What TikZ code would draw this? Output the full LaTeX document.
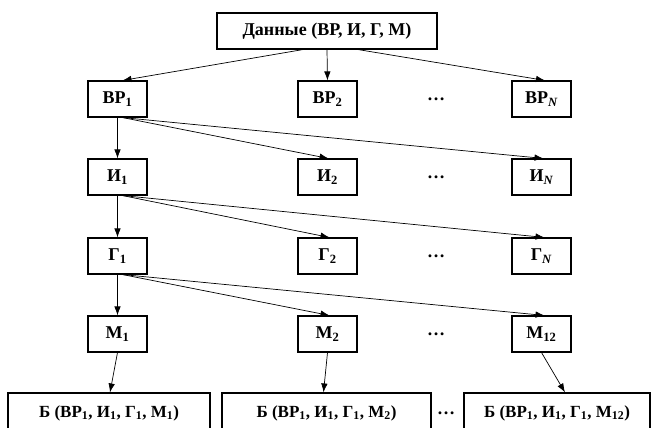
\documentclass[tikz,border=0pt]{standalone}
\usepackage{fontspec}
\setmainfont{Liberation Serif}
\usetikzlibrary{arrows.meta}
\newcommand{\sbs}[1]{\textsubscript{#1}}
\begin{document}
\begin{tikzpicture}[x=1pt,y=-1pt,
  box/.style={draw,line width=1.1pt,minimum width=59pt,minimum height=36pt,inner sep=0pt,font=\fontsize{18}{21}\selectfont\bfseries},
  bbox/.style={box,minimum height=40pt,font=\fontsize{17}{20}\selectfont\bfseries},
  arr/.style={-{Latex[length=9pt,width=6.5pt]},line width=0.7pt},
  dotsnode/.style={font=\fontsize{18}{21}\selectfont\bfseries,inner sep=0pt}]
\useasboundingbox (0,0) rectangle (659,428);
\clip (0,0) rectangle (659,428);
\node[box,minimum width=220pt] (top) at (327,31) {Данные (ВР, И, Г, М)};
% row BP
\node[box] (vr1) at (117.5,99) {ВР\sbs{1}};
\node[box] (vr2) at (327.5,99) {ВР\sbs{2}};
\node[dotsnode] (vrd) at (436,99) {…};
\node[box] (vrn) at (541.5,99) {ВР\sbs{\textit{N}}};
% row I
\node[box] (i1) at (117.5,177) {И\sbs{1}};
\node[box] (i2) at (327.5,177) {И\sbs{2}};
\node[dotsnode] (id) at (436,177) {…};
\node[box] (in) at (541.5,177) {И\sbs{\textit{N}}};
% row G
\node[box] (g1) at (117.5,256) {Г\sbs{1}};
\node[box] (g2) at (327.5,256) {Г\sbs{2}};
\node[dotsnode] (gd) at (436,256) {…};
\node[box] (gn) at (541.5,256) {Г\sbs{\textit{N}}};
% row M
\node[box] (m1) at (117.5,334) {М\sbs{1}};
\node[box] (m2) at (327.5,334) {М\sbs{2}};
\node[dotsnode] (md) at (436,334) {…};
\node[box] (m12) at (541.5,334) {М\sbs{12}};
% bottom
\node[bbox,minimum width=202pt] (b1) at (109,413) {Б (ВР\sbs{1}, И\sbs{1}, Г\sbs{1}, М\sbs{1})};
\node[bbox,minimum width=209pt] (b2) at (326.5,413) {Б (ВР\sbs{1}, И\sbs{1}, Г\sbs{1}, М\sbs{2})};
\node[dotsnode] (bd) at (446,413) {…};
\node[bbox,minimum width=186pt] (b3) at (557,413) {Б (ВР\sbs{1}, И\sbs{1}, Г\sbs{1}, М\sbs{12})};
% arrows
\draw[arr] ([xshift=-24pt]top.south) -- ([xshift=5pt]vr1.north);
\draw[arr] (top.south) -- (vr2.north);
\draw[arr] ([xshift=31pt]top.south) -- ([xshift=3.5pt]vrn.north);
\draw[arr] (vr1.south) -- (i1.north);
\draw[arr] ([xshift=5pt]vr1.south) -- ([xshift=1pt]i2.north);
\draw[arr] ([xshift=5pt]vr1.south) -- ([xshift=2pt]in.north);
\draw[arr] (i1.south) -- (g1.north);
\draw[arr] ([xshift=5pt]i1.south) -- ([xshift=2pt]g2.north);
\draw[arr] ([xshift=5pt]i1.south) -- ([xshift=3pt]gn.north);
\draw[arr] (g1.south) -- (m1.north);
\draw[arr] ([xshift=5pt]g1.south) -- ([xshift=2pt]m2.north);
\draw[arr] ([xshift=5pt]g1.south) -- ([xshift=3pt]m12.north);
\draw[arr] (m1.south) -- ([xshift=1pt]b1.north);
\draw[arr] (m2.south) -- ([xshift=-3pt]b2.north);
\draw[arr] (m12.south) -- ([xshift=8pt]b3.north);
\end{tikzpicture}
\end{document}
